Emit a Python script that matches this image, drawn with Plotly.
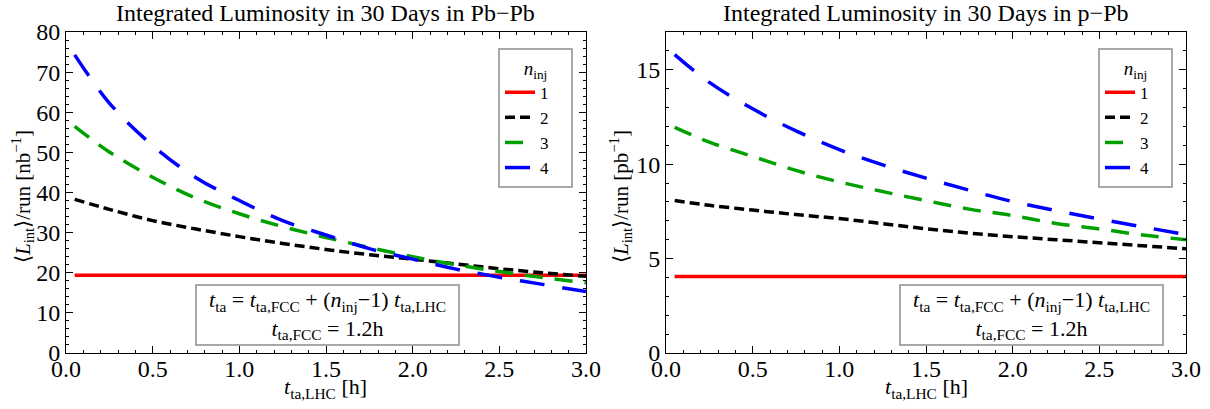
import plotly.graph_objects as go

# ---- data ----
t_lhc = [0.05, 0.25, 0.5, 0.75, 1.0, 1.25, 1.5, 1.75, 2.0, 2.25, 2.5, 2.75, 3.0]

pbpb_n1 = [19.4, 19.4, 19.4, 19.4, 19.4, 19.4, 19.4, 19.4, 19.4, 19.4, 19.4, 19.4, 19.4]
pbpb_n2 = [38.3, 35.8, 33.0, 30.9, 29.0, 27.3, 25.8, 24.5, 23.4, 22.2, 21.0, 20.0, 19.1]
pbpb_n3 = [56.5, 50.1, 43.8, 38.6, 34.7, 31.5, 28.8, 26.3, 24.0, 22.0, 20.3, 18.8, 17.5]
pbpb_n4 = [74.3, 62.3, 51.7, 43.7, 38.0, 33.0, 29.4, 26.0, 23.4, 20.9, 18.9, 17.1, 15.3]

ppb_n1 = [4.05, 4.05, 4.05, 4.05, 4.05, 4.05, 4.05, 4.05, 4.05, 4.05, 4.05, 4.05, 4.05]
ppb_n2 = [8.08, 7.82, 7.57, 7.33, 7.12, 6.85, 6.58, 6.35, 6.16, 6.00, 5.84, 5.68, 5.52]
ppb_n3 = [11.95, 11.17, 10.41, 9.67, 9.06, 8.55, 8.07, 7.62, 7.28, 6.86, 6.57, 6.25, 6.00]
ppb_n4 = [15.8, 14.33, 12.93, 11.76, 10.77, 9.96, 9.26, 8.62, 8.02, 7.54, 7.10, 6.68, 6.27]

n_labels = ["1", "2", "3", "4"]
colors = ["#ff0000", "#000000", "#00a000", "#0000ff"]
dashes = ["solid", "10px,5px", "18px,12px", "25px,18px"]

titles = ["Integrated Luminosity in 30 Days in Pb\u2212Pb", "Integrated Luminosity in 30 Days in p\u2212Pb"]
ytitles = ["\u27e8<i>L</i><sub>int</sub>\u27e9/run [nb<sup>\u22121</sup>]",
           "\u27e8<i>L</i><sub>int</sub>\u27e9/run [pb<sup>\u22121</sup>]"]
xtitle = "<i>t</i><sub>ta,LHC</sub> [h]"

FONT = "Liberation Serif, Times New Roman, Times, serif"
W, H = 1210, 409

fig = go.Figure()

panels = [
    ("x", "y", "legend", [pbpb_n1, pbpb_n2, pbpb_n3, pbpb_n4]),
    ("x2", "y2", "legend2", [ppb_n1, ppb_n2, ppb_n3, ppb_n4]),
]
for xa, ya, lg, series in panels:
    for lab, col, dsh, vals in zip(n_labels, colors, dashes, series):
        fig.add_trace(go.Scatter(
            x=t_lhc, y=vals, mode="lines", name=lab + "\u2003",
            line=dict(color=col, width=3.5, dash=dsh, shape="spline"),
            xaxis=xa, yaxis=ya, legend=lg, showlegend=True))

xdoms = [[66 / W, 586 / W], [666 / W, 1186 / W]]
ydom = [(H - 353) / H, (H - 32) / H]

def xaxis(dom, anchor):
    return dict(domain=dom, anchor=anchor, range=[0, 3], dtick=0.5, tick0=0,
                tickformat=".1f", ticks="inside", ticklen=7, tickwidth=1,
                tickcolor="black", showline=True, linecolor="black", linewidth=1,
                mirror="ticks", showgrid=False, zeroline=False, automargin=False,
                tickfont=dict(family=FONT, size=24, color="black"),
                minor=dict(dtick=0.1, ticks="inside", ticklen=3, tickcolor="black", showgrid=False))

def yaxis(dom, anchor, rng, dt, mdt):
    return dict(domain=dom, anchor=anchor, range=rng, dtick=dt, tick0=0,
                ticks="inside", ticklen=7, tickwidth=1, tickcolor="black",
                showline=True, linecolor="black", linewidth=1, mirror="ticks",
                showgrid=False, zeroline=False, automargin=False,
                tickfont=dict(family=FONT, size=24, color="black"),
                minor=dict(dtick=mdt, ticks="inside", ticklen=3, tickcolor="black", showgrid=False))

legend_common = dict(
    bgcolor="white", bordercolor="#a8a8a8", borderwidth=2,
    font=dict(family=FONT, size=17, color="black"),
    title=dict(text="<i>n</i><sub>inj</sub>", side="top center",
               font=dict(family=FONT, size=19, color="black")),
    xanchor="right", yanchor="top", tracegroupgap=0, itemclick=False,
)

fig.update_layout(
    width=W, height=H, margin=dict(l=0, r=0, t=0, b=0, autoexpand=False),
    paper_bgcolor="white", plot_bgcolor="white",
    font=dict(family=FONT, color="black"),
    xaxis=xaxis(xdoms[0], "y"),
    xaxis2=xaxis(xdoms[1], "y2"),
    yaxis=yaxis(ydom, "x", [0, 80], 10, 2),
    yaxis2=yaxis(ydom, "x2", [0, 17], 5, 1),
    legend=dict(x=573 / W, y=(H - 48) / H, **legend_common),
    legend2=dict(x=1173 / W, y=(H - 48) / H, **legend_common),
)

try:
    fig.update_xaxes(ticklabelstandoff=-6)
except Exception:
    pass

box_text = ("\u2002<i>t</i><sub>ta</sub> = <i>t</i><sub>ta,FCC</sub> + (<i>n</i><sub>inj</sub>\u22121) "
            "<i>t</i><sub>ta,LHC</sub>\u2002<br><i>t</i><sub>ta,FCC</sub> = 1.2h")
for xr, yr, bx, by in [("x", "y", 1.51, 9.5), ("x2", "y2", 2.11, 2.0)]:
    fig.add_annotation(x=bx, y=by, xref=xr, yref=yr, text=box_text, showarrow=False,
                       align="center", bgcolor="white", bordercolor="#a8a8a8",
                       borderwidth=2, borderpad=1,
                       font=dict(family=FONT, size=22, color="black"))

for i, ttl in enumerate(titles):
    cx = (xdoms[i][0] + xdoms[i][1]) / 2
    fig.add_annotation(x=cx, y=(H - 13) / H, xref="paper", yref="paper", text=ttl,
                       showarrow=False, xanchor="center", yanchor="middle",
                       font=dict(family=FONT, size=24, color="black"))
    fig.add_annotation(x=cx, y=(H - 388) / H, xref="paper", yref="paper", text=xtitle,
                       showarrow=False, xanchor="center", yanchor="middle",
                       font=dict(family=FONT, size=22, color="black"))

for px, ttl in [(22, ytitles[0]), (620, ytitles[1])]:
    fig.add_annotation(x=px / W, y=(H - 197) / H, xref="paper", yref="paper", text=ttl,
                       showarrow=False, xanchor="center", yanchor="middle", textangle=-90,
                       font=dict(family=FONT, size=21, color="black"))

fig.write_html("out.html", config={"displayModeBar": False},
               post_script="document.body.style.margin='0';")
